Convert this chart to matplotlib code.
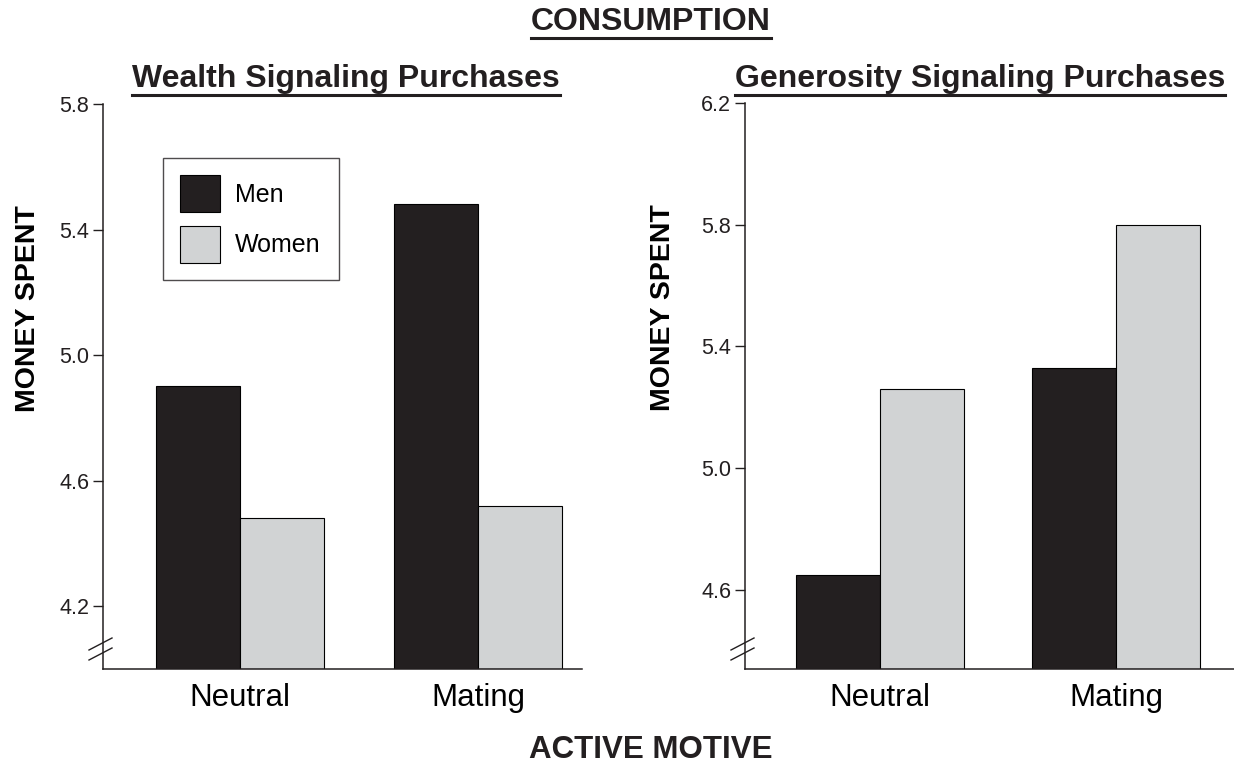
import matplotlib.pyplot as plt
import matplotlib.patches as mpatches
from matplotlib.lines import Line2D
import numpy as np

plt.rcParams['font.family'] = ['Liberation Sans', 'DejaVu Sans']

motives = ['Neutral', 'Mating']
wealth_men = [4.90, 5.48]
wealth_women = [4.48, 4.52]
gen_men = [4.65, 5.33]
gen_women = [5.26, 5.80]

wealth_ticks = [4.2, 4.6, 5.0, 5.4, 5.8]
gen_ticks = [4.6, 5.0, 5.4, 5.8, 6.2]

men_color = '#231F20'
women_color = '#D1D3D4'

fig = plt.figure(figsize=(12.34, 7.67), dpi=100)
ax1 = fig.add_axes([103/1234, 98/767, 479/1234, 565/767])
ax2 = fig.add_axes([745/1234, 98/767, 489/1234, 566/767])


def draw_panel(ax, men, women, ticks, ylim, xlim, width):
    x = np.arange(len(motives))
    base = ylim[0]
    ax.bar(x - width/2, [m - base for m in men], width, bottom=base,
           color=men_color, edgecolor='black', linewidth=0.8)
    ax.bar(x + width/2, [w - base for w in women], width, bottom=base,
           color=women_color, edgecolor='black', linewidth=0.8)
    ax.set_ylim(*ylim)
    ax.set_xlim(*xlim)
    ax.set_yticks(ticks)
    ax.set_yticklabels(['%.1f' % t for t in ticks])
    ax.set_xticks(x)
    ax.set_xticklabels(motives, fontsize=22.5)
    ax.tick_params(axis='x', length=0, pad=10)
    ax.tick_params(axis='y', length=7, width=1.0, labelsize=15.5, pad=3,
                   colors='#231F20')
    ax.spines['top'].set_visible(False)
    ax.spines['right'].set_visible(False)
    for s in ['left', 'bottom']:
        ax.spines[s].set_linewidth(1.1)
        ax.spines[s].set_color('#231F20')
    ax.set_ylabel('MONEY SPENT', fontsize=20.5, fontweight='bold')
    # axis break marks
    h = ax.get_position().height * 767
    w = ax.get_position().width * 1234
    for y0 in [19/h, 9/h]:
        ax.plot([-14/w, 9/w], [y0, y0 + 12/h], transform=ax.transAxes,
                color='#231F20', lw=1.0, clip_on=False)


draw_panel(ax1, wealth_men, wealth_women, wealth_ticks, (4.0, 5.8),
           (-0.576, 1.437), 0.353)
draw_panel(ax2, gen_men, gen_women, gen_ticks, (4.34, 6.2),
           (-0.572, 1.5), 0.356)
ax1.yaxis.set_label_coords(-62/479, 0.638)
ax2.yaxis.set_label_coords(-69/489, 0.638)

handles = [mpatches.Patch(facecolor=men_color, edgecolor='black', lw=0.8, label='Men'),
           mpatches.Patch(facecolor=women_color, edgecolor='black', lw=0.8, label='Women')]
leg = ax1.legend(handles=handles, loc='upper left', bbox_to_anchor=(0.125, 0.905),
                 fontsize=18, frameon=True, fancybox=False, handlelength=1.6,
                 handleheight=1.9, handletextpad=0.6, borderpad=0.7,
                 labelspacing=0.55, borderaxespad=0)
leg.get_frame().set_edgecolor('#231F20')
leg.get_frame().set_linewidth(1.0)

fig.canvas.draw()
renderer = fig.canvas.get_renderer()


def underlined(x, y, s, size):
    t = fig.text(x, y, s, ha='center', va='center', fontsize=size,
                 fontweight='bold', color='#231F20')
    bb = t.get_window_extent(renderer=renderer)
    yl = (bb.y0 - 1) / fig.bbox.height
    fig.add_artist(Line2D([bb.x0 / fig.bbox.width, bb.x1 / fig.bbox.width],
                          [yl, yl], color='#231F20', lw=2.2))


underlined(651/1234, 1 - 22/767, 'CONSUMPTION', 23)
underlined(346/1234, 1 - 79/767, 'Wealth Signaling Purchases', 23)
underlined(980/1234, 1 - 79/767, 'Generosity Signaling Purchases', 23)
fig.text(651/1234, 1 - 750/767, 'ACTIVE MOTIVE', ha='center', va='center',
         fontsize=22.5, fontweight='bold', color='#231F20')

fig.savefig('out.png', dpi=100)
